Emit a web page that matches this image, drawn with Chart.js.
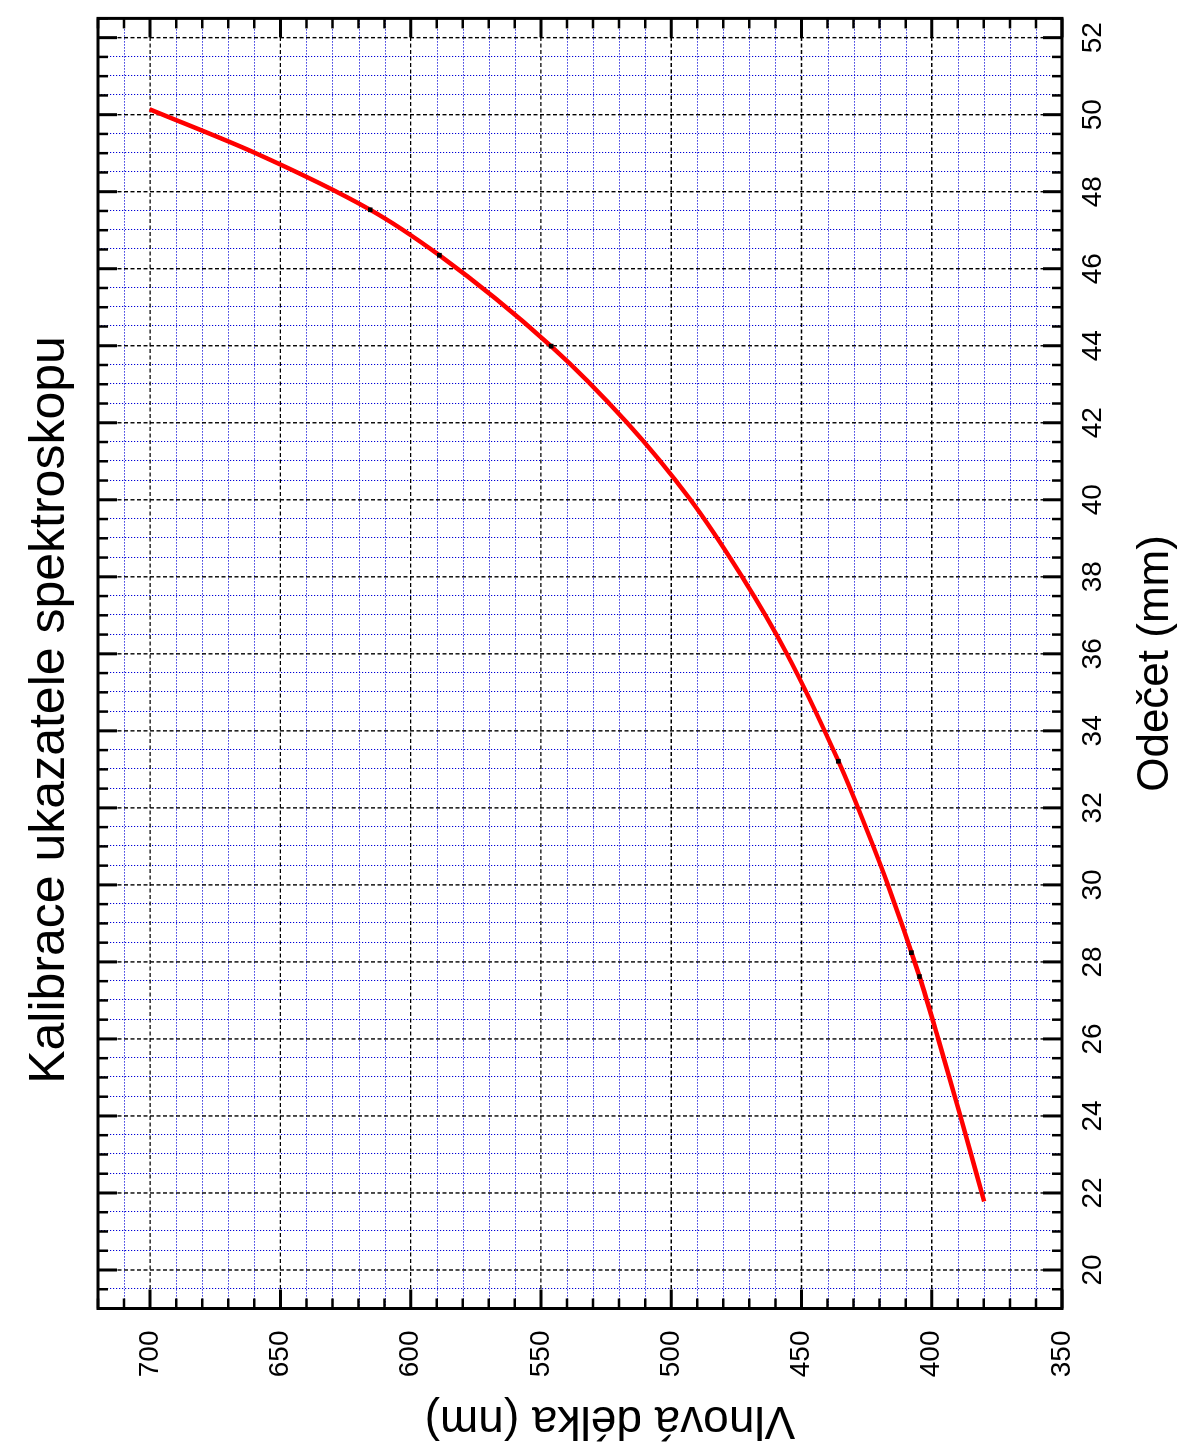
<!DOCTYPE html>
<html lang="cs">
<head>
<meta charset="utf-8">
<title>Kalibrace ukazatele spektroskopu</title>
<script src="https://cdn.jsdelivr.net/npm/chart.js@4.4.1/dist/chart.umd.min.js"></script>
<style>
  html, body { margin: 0; padding: 0; background: #ffffff; overflow: hidden; }
  /* the plot is laid out landscape and turned a quarter turn to stand on the page */
  #turn {
    position: absolute; left: 0; top: 0;
    width: 1445px; height: 1183px;
    transform-origin: 0 0;
    transform: translateY(1445px) rotate(-90deg);
  }
  canvas { display: block; }
</style>
</head>
<body>
<div id="turn"><canvas id="cal" width="1445" height="1183"></canvas></div>
<script>
// Calibration curve: pointer reading (mm) against wavelength (nm)
const curveMm = [21.78, 24, 26, 27.62, 30, 32, 33.21, 36, 38, 40, 42, 43.99, 46.35, 47.53, 49, 50.14];
const curveNm = [379.9, 389.0, 397.5, 404.7, 416.8, 428.3, 435.8, 455.6, 472.8, 492.6, 516.9, 546.1, 589.0, 615.5, 659.5, 700.2];

// Measured spectral lines
const lineMm = [27.62, 28.24, 33.21, 43.99, 46.35, 47.53];
const lineNm = [404.7, 407.8, 435.8, 546.1, 589.0, 615.5];

// Axis ranges and labelled ticks
const mmRange = [19, 52.5];
const nmRange = [350, 720];
const mmTicks = [20, 22, 24, 26, 28, 30, 32, 34, 36, 38, 40, 42, 44, 46, 48, 50, 52];
const nmTicks = [350, 400, 450, 500, 550, 600, 650, 700];
const mmMinorStep = 0.5;
const nmMinorStep = 10;

const TITLE = 'Kalibrace ukazatele spektroskopu';
const NM_TITLE = 'Vlnová délka (nm)';
const FONT = '"Liberation Sans", Arial, Helvetica, sans-serif';

function stepsBetween(lo, hi, step) {
  const out = [];
  const n0 = Math.ceil(lo / step - 1e-9), n1 = Math.floor(hi / step + 1e-9);
  for (let i = n0; i <= n1; i++) out.push(+(i * step).toFixed(6));
  return out;
}
const mmMinor = stepsBetween(mmRange[0], mmRange[1], mmMinorStep).filter(v => !mmTicks.includes(v));
const nmMinor = stepsBetween(nmRange[0], nmRange[1], nmMinorStep).filter(v => !nmTicks.includes(v));

// Dotted blue fine grid and dashed black coarse grid, inward ticks and frame
const frameGrid = {
  id: 'frameGrid',
  beforeDatasetsDraw(chart) {
    const { ctx, chartArea: a, scales: { x, y } } = chart;
    ctx.save();
    ctx.beginPath(); ctx.rect(a.left, a.top, a.right - a.left, a.bottom - a.top); ctx.clip();
    const vline = px => { ctx.beginPath(); ctx.moveTo(px, a.top); ctx.lineTo(px, a.bottom); ctx.stroke(); };
    const hline = py => { ctx.beginPath(); ctx.moveTo(a.left, py); ctx.lineTo(a.right, py); ctx.stroke(); };
    ctx.strokeStyle = 'rgb(0,0,215)';
    ctx.lineWidth = 1;
    ctx.setLineDash([1.2, 1.8]);
    mmMinor.forEach(v => vline(Math.round(x.getPixelForValue(v)) + 0.5));
    nmMinor.forEach(v => hline(Math.round(y.getPixelForValue(v)) + 0.5));
    ctx.strokeStyle = '#000000';
    ctx.lineWidth = 1.4;
    ctx.setLineDash([4, 2.5]);
    mmTicks.forEach(v => vline(x.getPixelForValue(v)));
    nmTicks.forEach(v => hline(y.getPixelForValue(v)));
    ctx.restore();
  },
  afterDatasetsDraw(chart) {
    const { ctx, chartArea: a, scales: { x, y } } = chart;
    ctx.save();
    ctx.strokeStyle = '#000000';
    ctx.lineCap = 'butt';
    const xTicks = (vals, len, w) => {
      ctx.lineWidth = w;
      vals.forEach(v => {
        const px = x.getPixelForValue(v);
        ctx.beginPath();
        ctx.moveTo(px, a.bottom); ctx.lineTo(px, a.bottom - len);
        ctx.moveTo(px, a.top); ctx.lineTo(px, a.top + len);
        ctx.stroke();
      });
    };
    const yTicks = (vals, len, w) => {
      ctx.lineWidth = w;
      vals.forEach(v => {
        const py = y.getPixelForValue(v);
        ctx.beginPath();
        ctx.moveTo(a.left, py); ctx.lineTo(a.left + len, py);
        ctx.moveTo(a.right, py); ctx.lineTo(a.right - len, py);
        ctx.stroke();
      });
    };
    xTicks(mmMinor, 10, 2.5);
    xTicks(mmTicks, 19, 3);
    yTicks(nmMinor, 10, 2.5);
    yTicks(nmTicks, 19, 3);
    ctx.lineWidth = 3;
    ctx.strokeRect(a.left, a.top, a.right - a.left, a.bottom - a.top);
    ctx.restore();
  },
  afterDraw(chart) {
    const { ctx } = chart;
    ctx.save();
    ctx.fillStyle = '#000000';
    ctx.textAlign = 'center';
    ctx.textBaseline = 'middle';
    // chart title across the top
    ctx.font = '50px ' + FONT;
    ctx.fillText(TITLE, 735, 50);
    // wavelength axis title, read upwards along the left side
    ctx.translate(25, 610);
    ctx.rotate(-Math.PI / 2);
    ctx.font = '46px ' + FONT;
    ctx.fillText(NM_TITLE, 0, 0);
    ctx.restore();
  }
};

new Chart(document.getElementById('cal'), {
  type: 'line',
  data: {
    datasets: [
      {
        label: 'Měřené čáry',
        type: 'scatter',
        data: lineMm.map((m, i) => ({ x: m, y: lineNm[i] })),
        pointStyle: 'rect',
        pointRadius: 3.3,
        backgroundColor: '#000000',
        borderColor: '#000000',
        borderWidth: 0,
        order: 0
      },
      {
        label: 'Kalibrační křivka',
        data: curveMm.map((m, i) => ({ x: m, y: curveNm[i] })),
        borderColor: '#ff0000',
        borderWidth: 4.5,
        pointRadius: 0,
        fill: false,
        cubicInterpolationMode: 'monotone',
        order: 1
      }
    ]
  },
  options: {
    responsive: false,
    animation: false,
    devicePixelRatio: 1,
    layout: { padding: { left: 0, right: 18.4, top: 98, bottom: 0 } },
    plugins: {
      legend: { display: false },
      tooltip: { enabled: false },
      title: { display: false }
    },
    scales: {
      x: {
        type: 'linear',
        position: 'bottom',
        min: mmRange[0],
        max: mmRange[1],
        afterBuildTicks: s => { s.ticks = mmTicks.map(v => ({ value: v })); },
        afterFit: s => { s.height = 121; },
        ticks: {
          autoSkip: false, maxRotation: 0, minRotation: 0,
          color: '#000000', padding: 14,
          font: { family: FONT, size: 28 }
        },
        grid: { display: false, drawTicks: false, tickLength: 0 },
        border: { display: false },
        title: {
          display: true, text: 'Odečet (mm)', color: '#000000',
          font: { family: FONT, size: 44, lineHeight: 1.2 },
          padding: { top: 0, bottom: 1 }
        }
      },
      y: {
        type: 'linear',
        position: 'left',
        min: nmRange[0],
        max: nmRange[1],
        afterBuildTicks: s => { s.ticks = nmTicks.map(v => ({ value: v })); },
        afterFit: s => { s.width = 136.5; },
        ticks: {
          autoSkip: false,
          color: '#000000', padding: 22,
          font: { family: FONT, size: 28 }
        },
        grid: { display: false, drawTicks: false, tickLength: 0 },
        border: { display: false },
        title: { display: false }
      }
    }
  },
  plugins: [frameGrid]
});
</script>
</body>
</html>
